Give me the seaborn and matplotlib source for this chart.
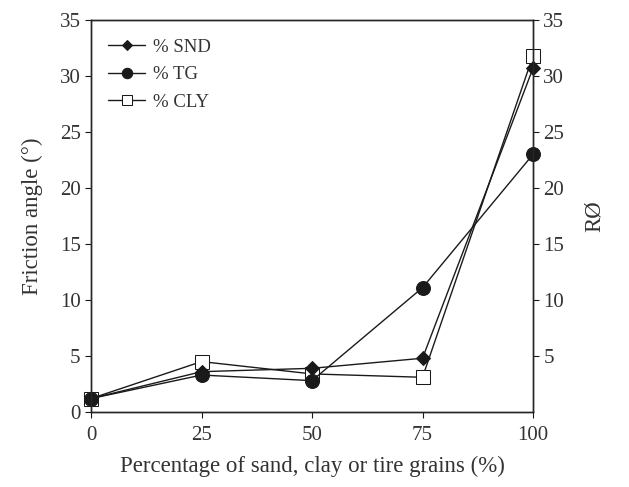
import matplotlib
matplotlib.use("Agg")
import matplotlib.pyplot as plt
import seaborn as sns
import pandas as pd

# Friction angle versus proportion of added material
percent = [0, 25, 50, 75, 100]
snd = [1.2, 3.6, 3.9, 4.8, 30.7]
tg = [1.2, 3.3, 2.8, 11.1, 23.0]
cly = [1.2, 4.5, 3.4, 3.1, 31.8]
series_names = ["% SND", "% TG", "% CLY"]

x_ticks = [0, 25, 50, 75, 100]
left_ticks = [0, 5, 10, 15, 20, 25, 30, 35]
right_ticks = [5, 10, 15, 20, 25, 30, 35]

sns.set_style("ticks")
plt.rcParams["font.family"] = ["Liberation Serif", "DejaVu Serif"]
plt.rcParams["axes.linewidth"] = 1.0

df = pd.DataFrame({
    "pct": percent * 3,
    "val": cly + snd + tg,
    "series": [series_names[2]] * 5 + [series_names[0]] * 5 + [series_names[1]] * 5,
})

fig = plt.figure(figsize=(6.29, 4.87), dpi=100)
ax = fig.add_axes([0.1447, 0.154, 0.7027, 0.805])

ink = "#1a1a1a"
text_col = "#333333"
styles = {
    "% CLY": dict(marker="s", markerfacecolor="white", markeredgecolor=ink, markersize=9.5, zorder=2),
    "% SND": dict(marker="D", markerfacecolor=ink, markeredgecolor=ink, markersize=7, zorder=3),
    "% TG": dict(marker="o", markerfacecolor=ink, markeredgecolor=ink, markersize=10, zorder=4),
}
for name in ["% CLY", "% SND", "% TG"]:
    sub = df[df["series"] == name]
    sns.lineplot(data=sub, x="pct", y="val", ax=ax, color=ink, linewidth=1.0,
                 label=name, clip_on=False, **styles[name])

ax.set_xlim(0, 100)
ax.set_ylim(0, 35)
ax.set_xticks(x_ticks)
ax.set_yticks(left_ticks)
ax.tick_params(axis="both", labelsize=15, direction="out", length=4, color=ink, labelcolor=text_col)
ax.tick_params(axis="x", pad=6)
ax.set_xlabel("Percentage of sand, clay or tire grains (%)", fontsize=16.5, color=text_col, labelpad=8)
ax.set_ylabel("Friction angle (°)", fontsize=16.5, color=text_col, labelpad=12)
for s in ax.spines.values():
    s.set_color(ink)

ax2 = ax.twinx()
ax2.set_ylim(0, 35)
ax2.set_yticks(right_ticks)
ax2.tick_params(axis="y", labelsize=15, direction="out", length=4, color=ink, labelcolor=text_col)
ax2.set_ylabel("RØ", fontsize=16.5, color=text_col, labelpad=14)

handles, labels = ax.get_legend_handles_labels()
order = [labels.index(n) for n in series_names]
ax.legend([handles[i] for i in order], [labels[i] for i in order],
          loc="upper left", bbox_to_anchor=(0.0, 0.995), frameon=False,
          fontsize=13.5, handlelength=2.0, labelspacing=0.55, handletextpad=0.4,
          markerscale=0.75, labelcolor=text_col)

fig.savefig("out.png", dpi=100)
